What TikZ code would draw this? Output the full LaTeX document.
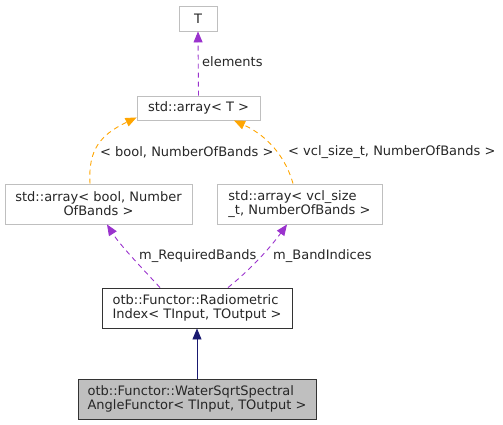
\documentclass[tikz,border=0pt]{standalone}
\usepackage{fontspec}
\setmainfont{DejaVu Sans}
\usetikzlibrary{arrows.meta}
\definecolor{boxgray}{HTML}{BFBFBF}
\definecolor{edgepurple}{HTML}{9A32CD}
\definecolor{edgeorange}{HTML}{FFA500}
\definecolor{edgenavy}{HTML}{191970}
\begin{document}
\begin{tikzpicture}[x=1pt,y=-1pt,
  every node/.style={font=\fontsize{13.0}{14.3}\selectfont, text=black!85, inner sep=0pt},
  classbox/.style={draw=boxgray, line width=0.9pt, fill=white, rectangle},
  mainbox/.style={draw=black!80, line width=0.9pt, fill=white, rectangle},
  focusbox/.style={draw=black!80, line width=0.9pt, fill=boxgray, rectangle},
  usage/.style={draw=edgepurple, dash pattern=on 5pt off 4pt, line width=0.9pt, -{Triangle[length=11pt,width=9pt]}},
  templ/.style={draw=edgeorange, dash pattern=on 5pt off 4pt, line width=0.9pt, -{Triangle[length=11pt,width=9pt]}},
  inherit/.style={draw=edgenavy, line width=0.9pt, -{Triangle[length=11pt,width=9pt]}},
  lbl/.style={anchor=west}
]
\useasboundingbox (0,0) rectangle (503,425);
\node[classbox, minimum width=38pt, minimum height=25pt] (T) at (198,18.5) {T};
\node[classbox, minimum width=123pt, minimum height=24pt] (arr) at (198.5,108) {std::array< T >};
\node[classbox, minimum width=187pt, minimum height=40pt, align=center] (bool) at (98.5,204) {std::array< bool, Number\\OfBands >};
\node[classbox, minimum width=165pt, minimum height=40pt, align=left] (vcl) at (299.5,204) {std::array< vcl\_size\\\_t, NumberOfBands >};
\node[mainbox, minimum width=190pt, minimum height=40pt, align=left] (rad) at (197,308) {otb::Functor::Radiometric\\Index< TInput, TOutput >};
\node[focusbox, minimum width=238pt, minimum height=40pt, align=left] (water) at (197,399) {otb::Functor::WaterSqrtSpectral\\AngleFunctor< TInput, TOutput >};

\draw[usage] (arr.north) -- (T.south);
\node[lbl] (lelem) at (202,62) {elements};

\draw[templ] ([xshift=-8.5pt]bool.north) .. controls (88,150) and (100,135) .. ([yshift=3pt]arr.south west);
\node[lbl] (lbool) at (100,152) {< bool, NumberOfBands >};
\draw[templ] ([xshift=-6.5pt]vcl.north) .. controls (287,162) and (272,138) .. ([xshift=35.5pt]arr.south);
\node[lbl] (lvcl) at (288,152) {< vcl\_size\_t, NumberOfBands >};

\draw[usage] ([xshift=-37pt]rad.north) .. controls (140,266) and (120,245) .. ([xshift=8.5pt]bool.south);
\node[lbl] (lreq) at (139,256) {m\_RequiredBands};
\draw[usage] ([xshift=31pt]rad.north) .. controls (250,270) and (270,248) .. ([xshift=-12.5pt]vcl.south);
\node[lbl] (lband) at (273,256) {m\_BandIndices};

\draw[inherit] (water.north) -- (rad.south);
\end{tikzpicture}
\end{document}
